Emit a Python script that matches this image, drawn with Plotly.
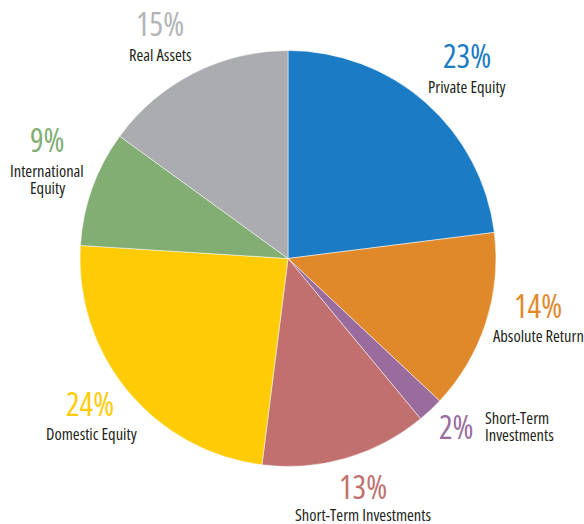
import plotly.graph_objects as go

# ---- data ----
categories = ["Private Equity", "Absolute Return", "Short-Term Investments (2%)",
              "Short-Term Investments", "Domestic Equity", "International Equity", "Real Assets"]
values = [23, 14, 2, 13, 24, 9, 15]
pct_labels = ["23%", "14%", "2%", "13%", "24%", "9%", "15%"]
name_labels = ["Private Equity", "Absolute Return", "Short-Term<br>Investments",
               "Short-Term Investments", "Domestic Equity", "International<br>Equity", "Real Assets"]

# ---- style ----
colors = ["#1B7BC4", "#E0892A", "#9A6C9E", "#C1706F", "#FFCB05", "#82AE74", "#ABACB0"]
pct_colors = ["#1B7BC4", "#E0892A", "#9A6C9E", "#C1706F", "#FFCB05", "#82AE74", "#B3B4B8"]
W, H = 584, 524
FONT = "Open Sans"
PCT_SIZE, NAME_SIZE, LINE_SP = 32, 16.5, 17.5

def px(X):
    return X / W

def py(Y):
    return 1 - Y / H

# label layout (pixel centres): (pct_x, pct_y, name_x, name_y, name_align)
label_pos = [
    (467, 56, 467, 86, "center"),
    (538, 305, 538, 335, "center"),
    (456, 426, 483, 426, "left"),
    (363, 486, 363, 514, "center"),
    (90, 403, 91, 433, "center"),
    (47, 139, 47, 179, "center"),
    (160, 24, 160, 55, "center"),
]

cx, cy, r = 288, 258.5, 208
fig = go.Figure(go.Pie(
    labels=categories, values=values, sort=False, direction="clockwise", rotation=0,
    marker=dict(colors=colors, line=dict(color="white", width=0.5)),
    textinfo="none", hoverinfo="label+percent", showlegend=False,
    domain=dict(x=[px(cx - r), px(cx + r)], y=[py(cy + r), py(cy - r)]),
))

def cond(t):
    return "<span style='font-stretch:condensed'>" + t + "</span>"

anns = []
for i, (ax, ay, nx, ny, al) in enumerate(label_pos):
    anns.append(dict(x=px(ax), y=py(ay), xref="paper", yref="paper", text=cond(pct_labels[i]),
                     showarrow=False, xanchor="center", yanchor="middle",
                     font=dict(family=FONT, size=PCT_SIZE, color=pct_colors[i])))
    lines = name_labels[i].split("<br>")
    n = len(lines)
    for k, line in enumerate(lines):
        ly = ny + (k - (n - 1) / 2) * LINE_SP
        anns.append(dict(x=px(nx), y=py(ly), xref="paper", yref="paper", text=cond(line),
                         showarrow=False, xanchor="left" if al == "left" else "center",
                         yanchor="middle", align=al,
                         font=dict(family=FONT, size=NAME_SIZE, color="#231F20")))

fig.update_layout(width=W, height=H, margin=dict(l=0, r=0, t=0, b=0),
                  paper_bgcolor="white", plot_bgcolor="white", annotations=anns)
fig.write_html("out.html", config={"displayModeBar": False},
               post_script="document.body.style.margin='0';document.body.style.overflow='hidden';")
